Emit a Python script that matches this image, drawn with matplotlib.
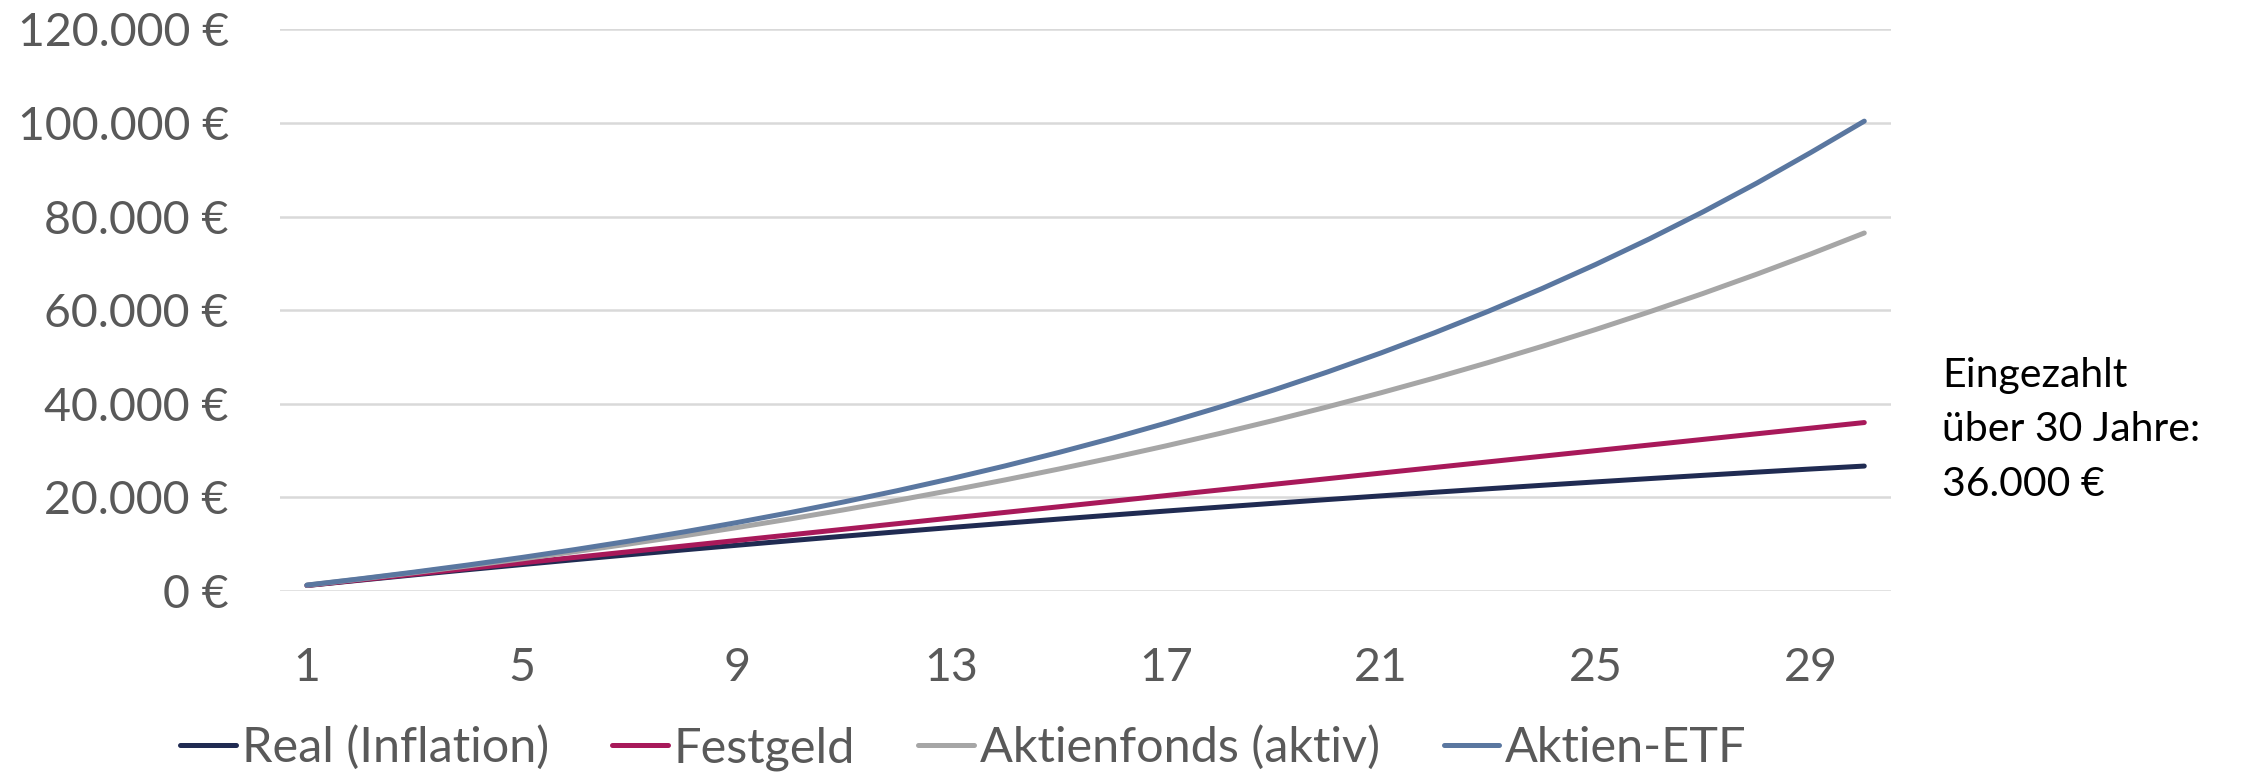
import matplotlib.pyplot as plt
from matplotlib.ticker import FuncFormatter

plt.rcParams['font.family'] = ['Lato', 'DejaVu Sans']

years = list(range(1, 31))

real = [1176, 2329, 3458, 4565, 5649, 6712, 7754, 8775, 9776, 10756,
        11717, 12659, 13581, 14486, 15372, 16241, 17092, 17926, 18744, 19545,
        20330, 21099, 21853, 22592, 23316, 24026, 24721, 25403, 26071, 26700]
festgeld = [1200, 2400, 3600, 4800, 6000, 7200, 8400, 9600, 10800, 12000,
            13200, 14400, 15600, 16800, 18000, 19200, 20400, 21600, 22800, 24000,
            25200, 26400, 27600, 28800, 30000, 31200, 32400, 33600, 34800, 36000]
aktienfonds = [1254, 2564, 3934, 5365, 6860, 8423, 10056, 11763, 13546, 15409,
               17357, 19392, 21519, 23741, 26063, 28490, 31026, 33676, 36446, 39340,
               42364, 45525, 48827, 52278, 55885, 59654, 63592, 67708, 72008, 76500]
etf = [1272, 2620, 4050, 5565, 7170, 8873, 10677, 12590, 14617, 16766,
       19044, 21459, 24018, 26731, 29607, 32656, 35887, 39312, 42943, 46791,
       50871, 55195, 59779, 64637, 69788, 75247, 81034, 87168, 93670, 100400]

series = [
    (real, '#202B52', 'Real (Inflation)'),
    (festgeld, '#A8195A', 'Festgeld'),
    (aktienfonds, '#A6A6A6', 'Aktienfonds (aktiv)'),
    (etf, '#5A77A0', 'Aktien-ETF'),
]

fig = plt.figure(figsize=(22.46, 7.74), dpi=100)
ax = fig.add_axes([0.1247, 0.2364, 0.842 - 0.1247, 0.962 - 0.2364])

for vals, color, label in series:
    ax.plot(years, vals, color=color, lw=3.6, label=label, solid_capstyle='round')

ax.set_xlim(0.5, 30.5)
ax.set_ylim(0, 120000)
ax.set_yticks(range(0, 120001, 20000))
ax.set_xticks(range(1, 31, 4))
ax.yaxis.set_major_formatter(FuncFormatter(lambda v, p: f"{int(v):,} €".replace(',', '.')))
ax.grid(axis='y', color='#D9D9D9', lw=1.8)
ax.set_axisbelow(True)
for s in ax.spines.values():
    s.set_visible(False)
ax.tick_params(axis='both', length=0, labelsize=33.5, colors='#595959')
ax.tick_params(axis='y', pad=37)
ax.tick_params(axis='x', pad=40)

fig.text(1942 / 2246, 1 - 357 / 774, "Eingezahlt\nüber 30 Jahre:\n36.000 €",
         fontsize=29.5, color='black', va='top', ha='left', linespacing=1.58)

leg = fig.legend(loc='center left', bbox_to_anchor=(180 / 2246, 1 - 748 / 774),
                 ncol=4, frameon=False, fontsize=35, handlelength=1.15,
                 handletextpad=0.12, columnspacing=1.3, borderaxespad=0,
                 borderpad=0)
for t in leg.get_texts():
    t.set_color('#595959')

fig.savefig('out.png', dpi=100)
